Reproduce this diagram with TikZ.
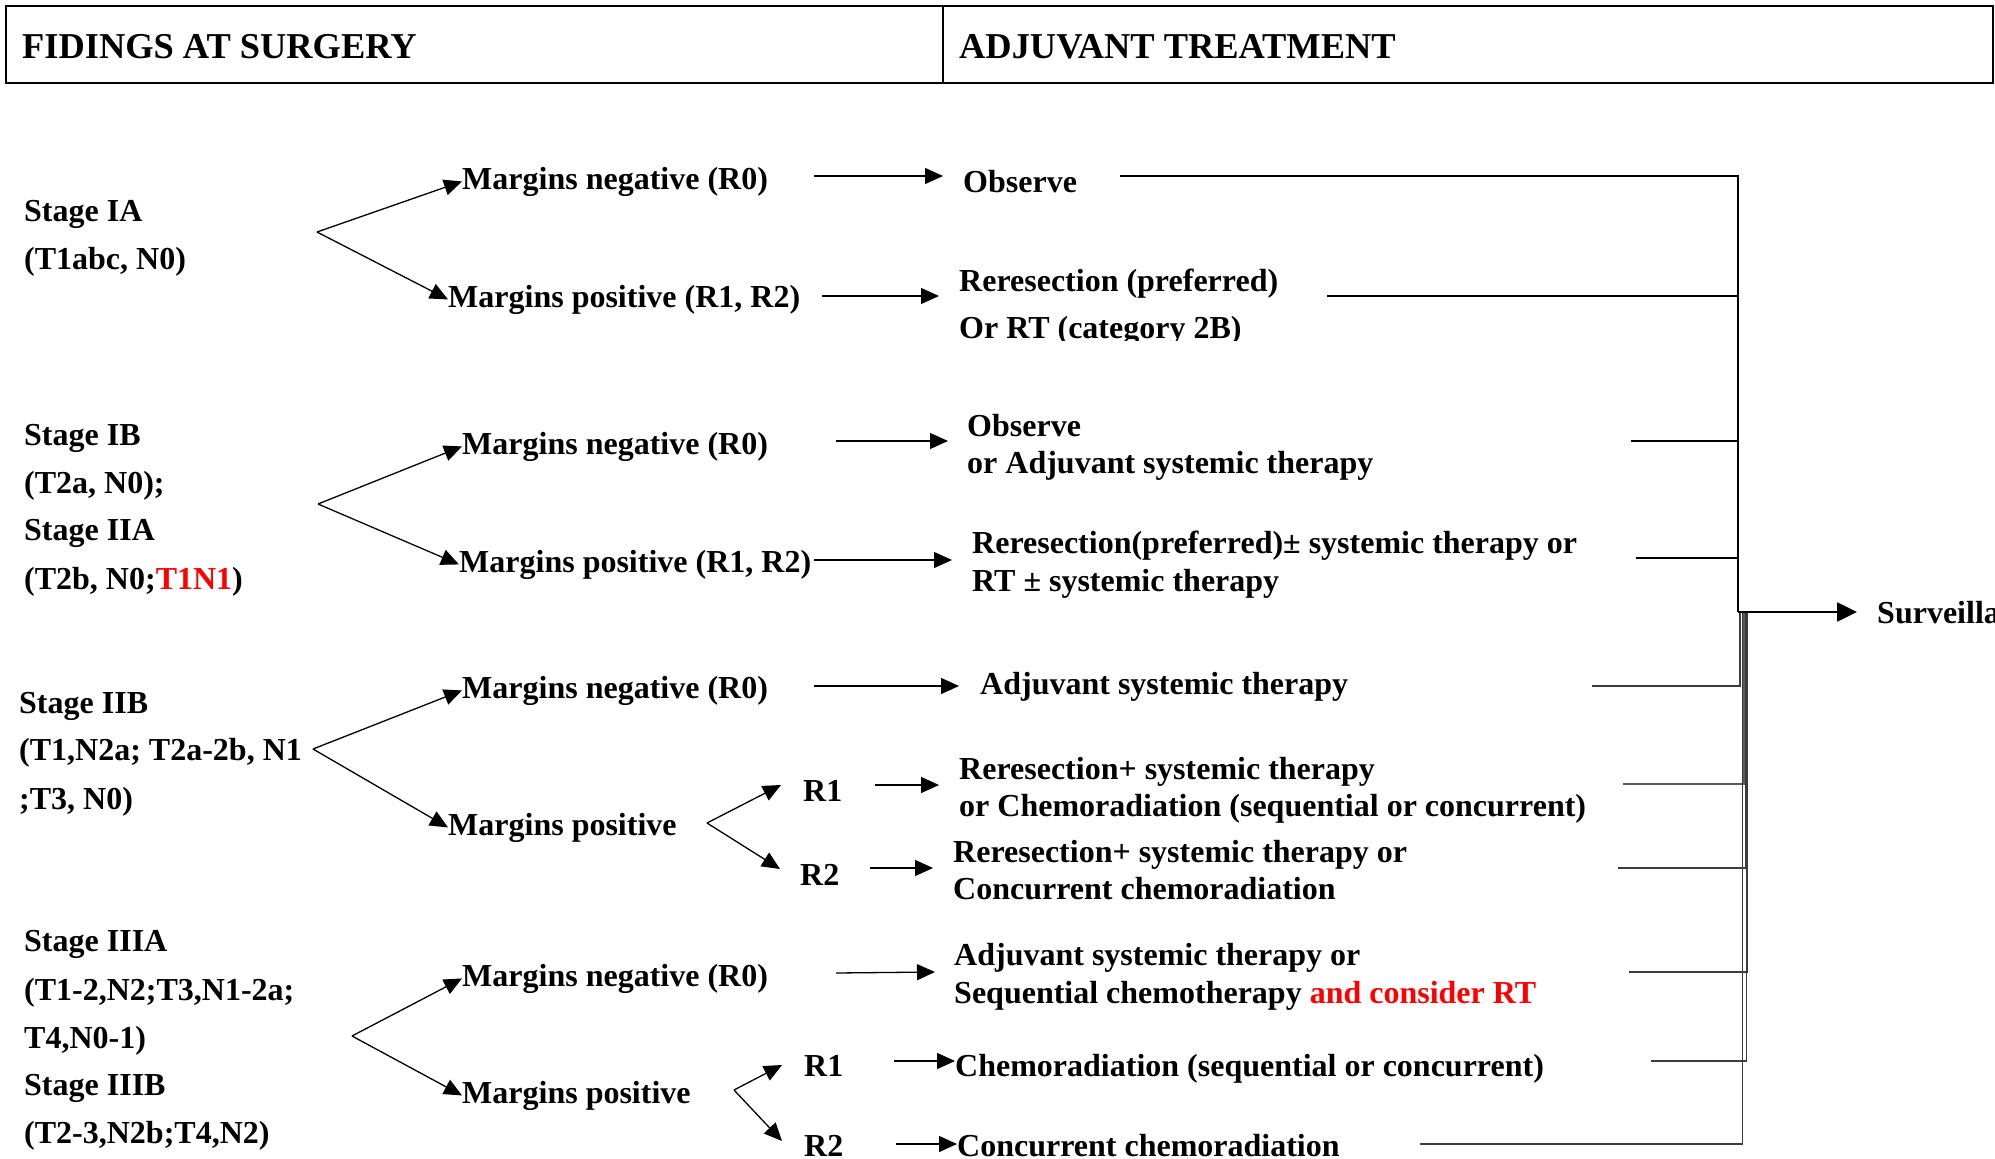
\documentclass[tikz,border=0pt]{standalone}
\usepackage{fontspec}
\setmainfont{Liberation Serif}
\usetikzlibrary{arrows.meta}
\definecolor{hl}{RGB}{255,0,0}
\definecolor{rail}{RGB}{60,60,60}
\definecolor{railthick}{RGB}{90,90,90}
\begin{document}
\begin{tikzpicture}[x=1pt,y=-1pt,line join=miter,
  txt/.style={anchor=base west,inner sep=0pt,font=\fontsize{32}{38}\selectfont\bfseries},
  head/.style={anchor=base west,inner sep=0pt,font=\fontsize{36.4}{43}\selectfont\bfseries},
  arr/.style={line width=1.3pt,-{Triangle[length=18pt,width=16pt]}},
  link/.style={line width=1.3pt},
  rlink/.style={line width=1.3pt,draw=rail},
  bigarr/.style={line width=2.5pt,-{Triangle[length=20pt,width=19pt]}}]
\useasboundingbox (0,0) rectangle (1995,1159);

% header band
\draw[line width=2.5pt] (6,6) rectangle (1993,83);
\draw[line width=2pt] (943,6) -- (943,83);
\node[head] (h1) at (22,58) {FIDINGS AT SURGERY};
\node[head] (h2) at (959,58) {ADJUVANT TREATMENT};

% ---------- Stage IA ----------
\node[txt] (s1a) at (24,221) {Stage IA};
\node[txt] (s1b) at (24,269) {(T1abc, N0)};
\node[txt] (mn1) at (462,189) {Margins negative (R0)};
\node[txt] (mp1) at (448,307) {Margins positive (R1, R2)};
\node[txt] (ob1) at (963,192) {Observe};
\node[txt] (rr1a) at (959,291) {Reresection (preferred)};
\begin{scope}
  \clip (940,300) rectangle (1300,340);
  \node[txt] (rr1b) at (959,338) {Or RT (category 2B)};
\end{scope}
\coordinate (v1) at (317,232);
\draw[arr] (v1) -- (mn1.west);
\draw[arr] (v1) -- (mp1.west);
\coordinate (a1s) at (814,176); \coordinate (a1e) at (943,176);
\coordinate (a2s) at (822,296); \coordinate (a2e) at (939,296);
\draw[arr] (a1s) -- (a1e);
\draw[arr] (a2s) -- (a2e);

% ---------- Stage IB / IIA ----------
\node[txt] (s2a) at (24,445) {Stage IB};
\node[txt] (s2b) at (24,493) {(T2a, N0);};
\node[txt] (s2c) at (24,540) {Stage IIA};
\node[txt] (s2d) at (24,589) {(T2b, N0;{\color{hl}T1N1})};
\node[txt] (mn2) at (462,454) {Margins negative (R0)};
\node[txt] (mp2) at (459,572) {Margins positive (R1, R2)};
\node[txt] (ob2a) at (967,436) {Observe};
\node[txt] (ob2b) at (967,473) {or Adjuvant systemic therapy};
\node[txt] (rr2a) at (972,553) {Reresection(preferred)± systemic therapy or};
\node[txt] (rr2b) at (972,591) {RT ± systemic therapy};
\coordinate (v2) at (318,504);
\draw[arr] (v2) -- (mn2.west);
\draw[arr] (v2) -- (mp2.west);
\coordinate (a3s) at (836,441); \coordinate (a3e) at (948,441);
\coordinate (a4s) at (814,560); \coordinate (a4e) at (952,560);
\draw[arr] (a3s) -- (a3e);
\draw[arr] (a4s) -- (a4e);

% ---------- Stage IIB ----------
\node[txt] (s3a) at (19,713) {Stage IIB};
\node[txt] (s3b) at (19,760) {(T1,N2a; T2a-2b, N1};
\node[txt] (s3c) at (19,809) {;T3, N0)};
\node[txt] (mn3) at (462,698) {Margins negative (R0)};
\node[txt] (mp3) at (448,835) {Margins positive};
\node[txt] (ad3) at (980,694) {Adjuvant systemic therapy};
\node[txt] (r13) at (803,801) {R1};
\node[txt] (r23) at (800,885) {R2};
\node[txt] (t3a) at (959,779) {Reresection+ systemic therapy};
\node[txt] (t3b) at (959,816) {or Chemoradiation (sequential or concurrent)};
\node[txt] (t3c) at (953,862) {Reresection+ systemic therapy or};
\node[txt] (t3d) at (953,899) {Concurrent chemoradiation};
\coordinate (v3) at (313,749);
\draw[arr] (v3) -- (mn3.west);
\draw[arr] (v3) -- (mp3.west);
\coordinate (w3) at (707,823);
\coordinate (w3a) at (781,785); \coordinate (w3b) at (780,869);
\draw[arr] (w3) -- (w3a);
\draw[arr] (w3) -- (w3b);
\coordinate (a5s) at (814,686); \coordinate (a5e) at (959,686);
\coordinate (a6s) at (875,785); \coordinate (a6e) at (939,785);
\coordinate (a7s) at (870,868); \coordinate (a7e) at (933,868);
\draw[arr] (a5s) -- (a5e);
\draw[arr] (a6s) -- (a6e);
\draw[arr] (a7s) -- (a7e);

% ---------- Stage IIIA / IIIB ----------
\node[txt] (s4a) at (24,951) {Stage IIIA};
\node[txt] (s4b) at (24,1000) {(T1-2,N2;T3,N1-2a;};
\node[txt] (s4c) at (24,1048) {T4,N0-1)};
\node[txt] (s4d) at (24,1095) {Stage IIIB};
\node[txt] (s4e) at (24,1143) {(T2-3,N2b;T4,N2)};
\node[txt] (mn4) at (462,986) {Margins negative (R0)};
\node[txt] (mp4) at (462,1103) {Margins positive};
\node[txt] (t4a) at (954,965) {Adjuvant systemic therapy or};
\node[txt] (t4b) at (954,1003) {Sequential chemotherapy {\color{hl}and consider RT}};
\node[txt] (r14) at (804,1076) {R1};
\node[txt] (r24) at (804,1156) {R2};
\node[txt] (t4c) at (955,1076) {Chemoradiation (sequential or concurrent)};
\node[txt] (t4d) at (957,1156) {Concurrent chemoradiation};
\coordinate (v4) at (352,1036);
\draw[arr] (v4) -- (mn4.west);
\draw[arr] (v4) -- (mp4.west);
\coordinate (w4) at (734,1090);
\coordinate (w4a) at (782,1065); \coordinate (w4b) at (782,1141);
\draw[arr] (w4) -- (w4a);
\draw[arr] (w4) -- (w4b);
\coordinate (a8s) at (836,973); \coordinate (a8e) at (935,972);
\draw[arr] (a8s) -- (a8e);
\coordinate (a9s) at (894,1061);
\coordinate (a10s) at (896,1144);
\draw[arr] (a9s) -- (t4c.west |- a9s);
\draw[arr] (a10s) -- (t4d.west |- a10s);

% ---------- collecting rail to surveillance ----------
\node[txt] (sv) at (1877,623) {Surveillance};
\coordinate (j) at (1738,612);
\coordinate (svtip) at (1857,612);
\coordinate (e1) at (1120,176);
\coordinate (e2) at (1327,296);
\coordinate (e3) at (1631,441);
\coordinate (e4) at (1636,558);
\draw[link] (e1) -| (j);
\draw[link] (e2) -- (e2 -| j);
\draw[link] (e3) -- (e3 -| j);
\draw[link] (e4) -- (e4 -| j);

\coordinate (e5) at (1592,686);
\coordinate (e6) at (1623,784);
\coordinate (e7) at (1618,868);
\coordinate (e8) at (1629,972);
\coordinate (e9) at (1651,1061);
\coordinate (e10) at (1420,1144);
\draw[line width=2.6pt,draw=railthick] (e6) -| (1744,612);
\draw[rlink] (e5) -| (1740,612);
\draw[rlink] (e7) -| (1745.5,612);
\draw[rlink] (e8) -| (1747.5,612);
\draw[rlink] (e9) -| (1746.5,612);
\draw[rlink] (e10) -| (1742.5,612);
\draw[bigarr] (j) -- (svtip);
\end{tikzpicture}
\end{document}
